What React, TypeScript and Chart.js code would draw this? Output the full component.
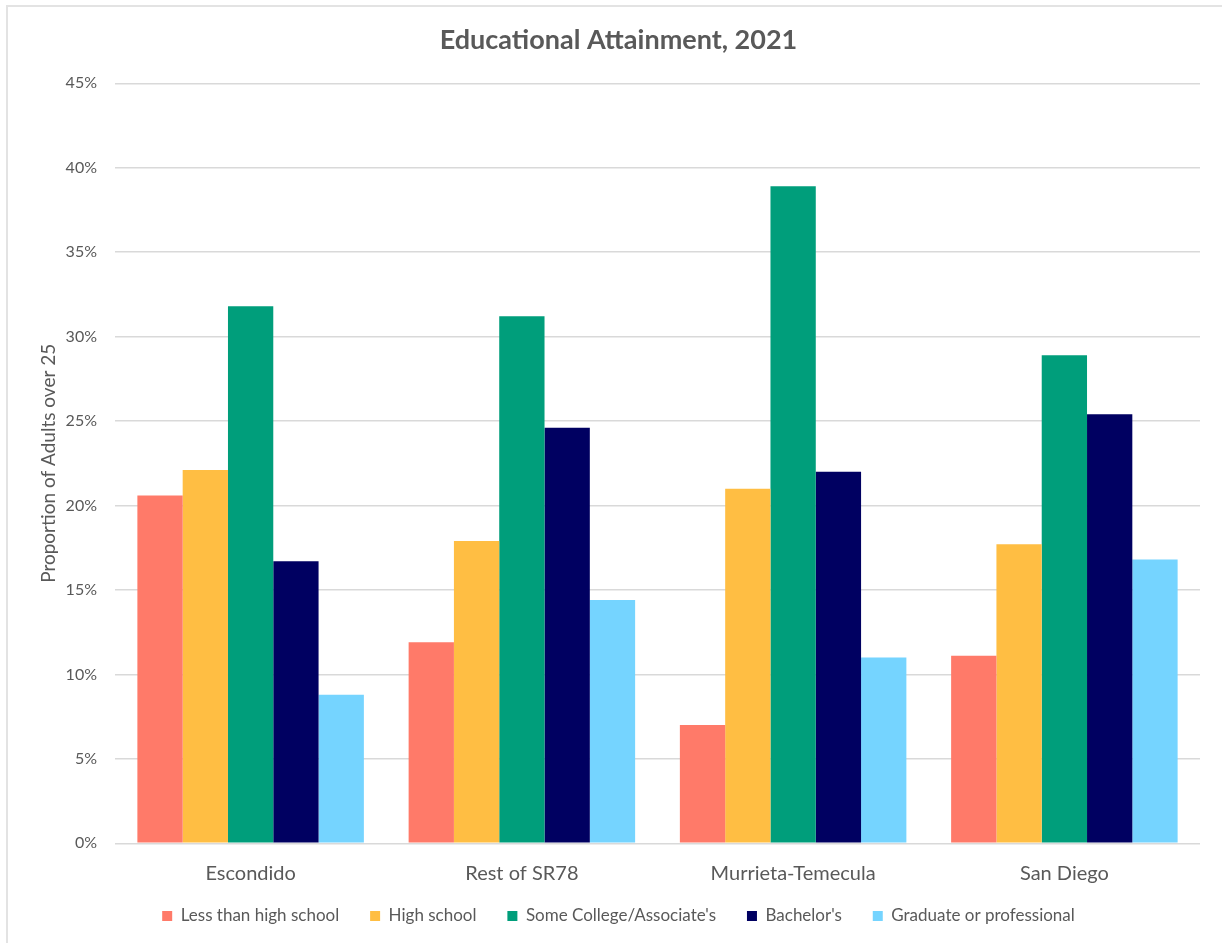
import React, { useEffect, useRef } from "react";
import { Chart, registerables } from "chart.js";

Chart.register(...registerables);

const regions = ["Escondido", "Rest of SR78", "Murrieta-Temecula", "San Diego"];

const lessThanHighSchool = [20.6, 11.9, 7.0, 11.1];
const highSchool = [22.1, 17.9, 21.0, 17.7];
const someCollege = [31.8, 31.2, 38.9, 28.9];
const bachelors = [16.7, 24.6, 22.0, 25.4];
const graduate = [8.8, 14.4, 11.0, 16.8];

const seriesNames = [
  "Less than high school",
  "High school",
  "Some College/Associate's",
  "Bachelor's",
  "Graduate or professional",
];
const seriesColors = ["#FF7A69", "#FFBE43", "#009E7B", "#000061", "#75D4FF"];

const yMin = 0;
const yMax = 45;
const yStep = 5;

const FONT = "Lato, 'Open Sans', sans-serif";
const TEXT = "#595959";

// extra room after each legend entry except the last one
const LEGEND_GAP = "  ";

export default function App() {
  const canvasRef = useRef<HTMLCanvasElement | null>(null);

  useEffect(() => {
    const canvas = canvasRef.current;
    if (!canvas) return;
    const values = [lessThanHighSchool, highSchool, someCollege, bachelors, graduate];
    const chart = new Chart(canvas, {
      type: "bar",
      data: {
        labels: regions,
        datasets: values.map((v, i) => ({
          label: seriesNames[i],
          data: v,
          backgroundColor: seriesColors[i],
          borderWidth: 0,
          categoryPercentage: 0.835,
          barPercentage: 1.0,
        })),
      },
      options: {
        responsive: false,
        animation: false,
        devicePixelRatio: 1,
        layout: { padding: { left: 37, right: 22, top: 0, bottom: 8.5 } },
        plugins: {
          title: {
            display: true,
            text: "Educational Attainment, 2021",
            color: TEXT,
            font: { family: FONT, size: 27, weight: "bold", lineHeight: 1.2 },
            padding: { top: 23.8, bottom: 27.1 },
          },
          legend: {
            display: true,
            position: "bottom",
            labels: {
              color: TEXT,
              font: { family: FONT, size: 17 },
              boxWidth: 10,
              boxHeight: 10,
              padding: 22.2,
              generateLabels: (c: any) => {
                const items = Chart.defaults.plugins.legend.labels.generateLabels(c);
                return items.map((it: any, i: number) => ({
                  ...it,
                  text: i < items.length - 1 ? it.text + LEGEND_GAP : it.text,
                  lineWidth: 0,
                }));
              },
            },
          },
          tooltip: { enabled: false },
        },
        scales: {
          x: {
            grid: { display: false, drawTicks: false },
            border: { display: false },
            ticks: {
              color: TEXT,
              font: { family: FONT, size: 20, lineHeight: 1.2 },
              padding: 18,
              maxRotation: 0,
            },
            afterFit: (scale: any) => {
              scale.height = 42;
            },
          },
          y: {
            min: yMin,
            max: yMax,
            grid: { color: "#D9D9D9", lineWidth: 1.5, drawTicks: false },
            border: { display: false },
            ticks: {
              stepSize: yStep,
              color: TEXT,
              font: { family: FONT, size: 16 },
              padding: 18,
              callback: (v: any) => `${v}%`,
            },
            title: {
              display: true,
              text: "Proportion of Adults over 25",
              color: TEXT,
              font: { family: FONT, size: 19, lineHeight: 1.2 },
              padding: { top: 0, bottom: 0 },
            },
            afterFit: (scale: any) => {
              scale.width = 78;
            },
          },
        },
      },
    });
    return () => chart.destroy();
  }, []);

  return (
    <div
      style={{
        position: "fixed",
        left: 0,
        top: 0,
        width: 1222,
        height: 943,
        background: "#fff",
        overflow: "hidden",
      }}
    >
      <div
        style={{
          position: "absolute",
          left: 6,
          top: 5,
          width: 1300,
          height: 1000,
          borderTop: "2px solid #E3E3E3",
          borderLeft: "2px solid #E3E3E3",
          boxSizing: "border-box",
        }}
      />
      <canvas
        ref={canvasRef}
        width={1222}
        height={943}
        style={{ position: "absolute", left: 0, top: 0, width: 1222, height: 943 }}
      />
    </div>
  );
}
